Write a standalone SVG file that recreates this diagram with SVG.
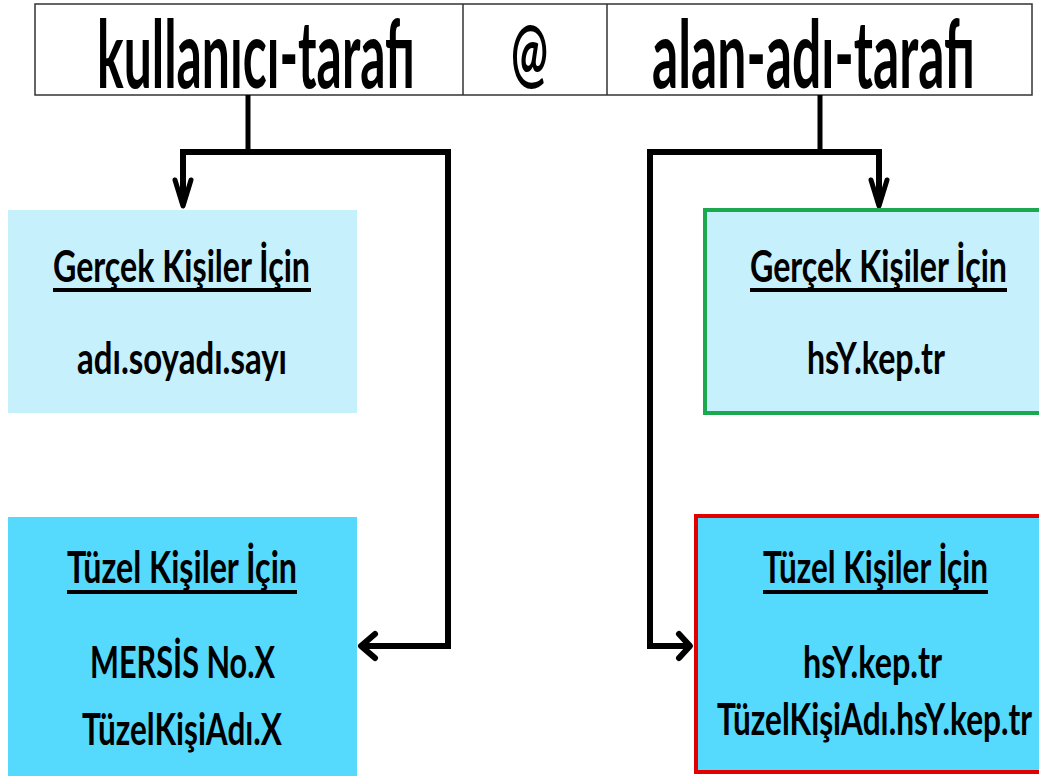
<svg xmlns="http://www.w3.org/2000/svg" width="1039" height="776" viewBox="0 0 1039 776">
<style>
text{font-family:Lato,"Liberation Sans",sans-serif;font-weight:bold;fill:#000}
.title{font-size:94px}
.lbl{font-size:44px}
.ul{stroke:#000;stroke-width:4}
.ln{fill:none;stroke:#000;stroke-width:6;stroke-linejoin:miter}
.stem{fill:none;stroke:#000;stroke-width:5}
.ah{fill:none;stroke:#000;stroke-width:5;stroke-linejoin:round;stroke-linecap:round}
.light{fill:#C5F0FC}
.cyan{fill:#55D9FD}
</style>
<rect width="1039" height="776" fill="#fff"/>
<g id="header">
<rect x="35" y="4" width="997" height="91" fill="#fff" stroke="#333" stroke-width="1.5"/>
<line x1="463" y1="4" x2="463" y2="95" stroke="#333" stroke-width="1.5"/>
<line x1="607" y1="4" x2="607" y2="95" stroke="#333" stroke-width="1.5"/>
<text class="title" x="97" y="88" textLength="318" lengthAdjust="spacingAndGlyphs">kullanıcı-tarafı</text>
<text class="title" x="511" y="80" style="font-size:78px" textLength="37" lengthAdjust="spacingAndGlyphs">@</text>
<text class="title" x="652" y="88" textLength="323" lengthAdjust="spacingAndGlyphs">alan-adı-tarafı</text>
</g>
<g id="connectors">
<path class="stem" d="M248,95 V152"/>
<path class="ln" d="M183,204 V152 H448 V646 H363"/>
<path class="ah" d="M175,180 L183,206 L191,180"/>
<path class="ah" style="stroke-width:6" d="M375,634 L361,646 L375,658"/>
<path class="stem" d="M820,95 V152"/>
<path class="ln" d="M879,204 V152 H650 V646 H688"/>
<path class="ah" d="M871,180 L879,206 L887,180"/>
<path class="ah" style="stroke-width:6" d="M679,634 L690,646 L679,658"/>
</g>
<g id="user-real">
<rect class="light" x="8" y="210" width="349" height="203"/>
<text class="lbl" x="53" y="282" textLength="257" lengthAdjust="spacingAndGlyphs">Gerçek Kişiler İçin</text>
<line class="ul" x1="53" y1="290" x2="311" y2="290"/>
<text class="lbl" x="77" y="374" textLength="210" lengthAdjust="spacingAndGlyphs">adı.soyadı.sayı</text>
</g>
<g id="user-legal">
<rect class="cyan" x="8" y="517" width="349" height="259"/>
<text class="lbl" x="67" y="583" textLength="230" lengthAdjust="spacingAndGlyphs">Tüzel Kişiler İçin</text>
<line class="ul" x1="67" y1="592" x2="297" y2="592"/>
<text class="lbl" x="90" y="678" textLength="185" lengthAdjust="spacingAndGlyphs">MERSİS No.X</text>
<text class="lbl" x="82" y="745" textLength="200" lengthAdjust="spacingAndGlyphs">TüzelKişiAdı.X</text>
</g>
<g id="domain-real">
<rect class="light" x="705" y="210" width="340" height="203" stroke="#1BA84E" stroke-width="4"/>
<text class="lbl" x="750" y="282" textLength="257" lengthAdjust="spacingAndGlyphs">Gerçek Kişiler İçin</text>
<line class="ul" x1="750" y1="290" x2="1007" y2="290"/>
<text class="lbl" x="807" y="374" textLength="138" lengthAdjust="spacingAndGlyphs">hsY.kep.tr</text>
</g>
<g id="domain-legal">
<rect class="cyan" x="696" y="516" width="349" height="256" stroke="#E00000" stroke-width="4"/>
<text class="lbl" x="763" y="583" textLength="225" lengthAdjust="spacingAndGlyphs">Tüzel Kişiler İçin</text>
<line class="ul" x1="763" y1="592" x2="988" y2="592"/>
<text class="lbl" x="803" y="678" textLength="139" lengthAdjust="spacingAndGlyphs">hsY.kep.tr</text>
<text class="lbl" x="717" y="735" textLength="315" lengthAdjust="spacingAndGlyphs">TüzelKişiAdı.hsY.kep.tr</text>
</g>
</svg>
